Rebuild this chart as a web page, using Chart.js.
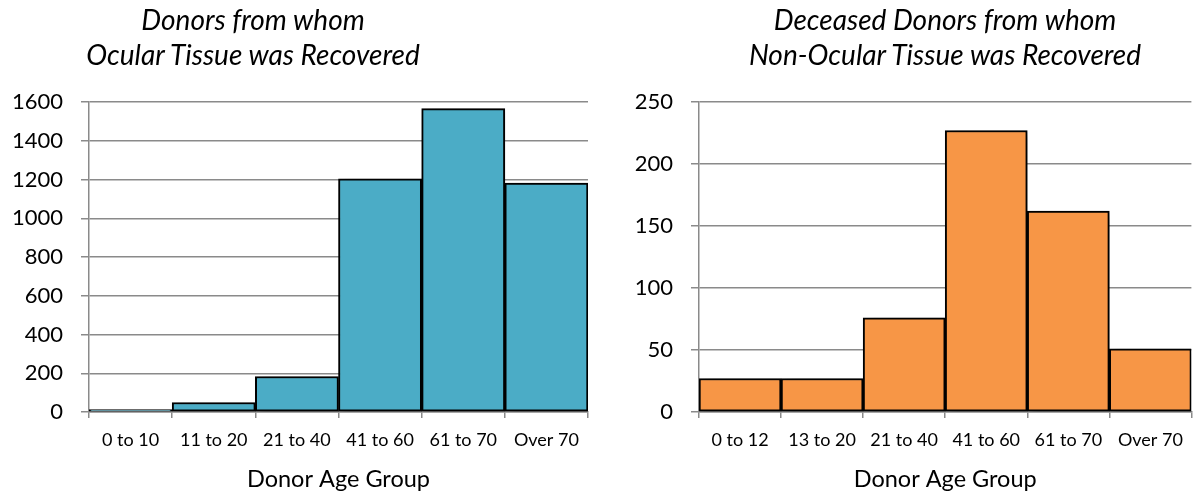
<!DOCTYPE html>
<html>
<head>
<meta charset="utf-8">
<script src="https://cdn.jsdelivr.net/npm/chart.js@4.4.0/dist/chart.umd.min.js"></script>
<style>
  html, body { margin: 0; padding: 0; background: #fff; }
  body { width: 1194px; height: 492px; position: relative; overflow: hidden; font-family: Lato, "Open Sans", sans-serif; }
  canvas { position: absolute; top: 0; }
  #c1 { left: 0; }
  #c2 { left: 597px; }
  .title { position: absolute; top: 2px; width: 520px; text-align: center; font-style: italic; font-size: 28px; line-height: 35px; color: #000; }
  #t1 { left: -7px; }
  #t2 { left: 685px; }
</style>
</head>
<body>
<canvas id="c1" width="597" height="492"></canvas>
<canvas id="c2" width="597" height="492"></canvas>
<div class="title" id="t1">Donors from whom<br>Ocular Tissue was Recovered</div>
<div class="title" id="t2">Deceased Donors from whom<br>Non-Ocular Tissue was Recovered</div>
<script>
const leftCategories = ['0 to 10', '11 to 20', '21 to 40', '41 to 60', '61 to 70', 'Over 70'];
const leftValues = [12, 49, 183, 1203, 1566, 1181];
const leftTicks = { max: 1600, step: 200 };

const rightCategories = ['0 to 12', '13 to 20', '21 to 40', '41 to 60', '61 to 70', 'Over 70'];
const rightValues = [27, 27, 76, 227, 162, 51];
const rightTicks = { max: 250, step: 50 };

const xTitle = 'Donor Age Group';

const FONT = 'Lato, "Open Sans", sans-serif';
const GRID = '#8a8a8a';

const shadowPlugin = {
  id: 'barShadow',
  beforeDatasetsDraw(chart) {
    const ctx = chart.ctx;
    ctx.save();
    ctx.shadowColor = 'rgba(0,0,0,0.4)';
    ctx.shadowBlur = 9;
    ctx.shadowOffsetX = 5;
    ctx.shadowOffsetY = 3;
  },
  afterDatasetsDraw(chart) {
    chart.ctx.restore();
  }
};

function makeChart(id, labels, values, ticks, color, yWidth, padRight) {
  return new Chart(document.getElementById(id), {
    type: 'bar',
    data: {
      labels: labels,
      datasets: [{
        data: values,
        backgroundColor: color,
        borderColor: '#000',
        borderWidth: 2,
        borderSkipped: false,
        barPercentage: 1,
        categoryPercentage: 1
      }]
    },
    options: {
      responsive: false,
      animation: false,
      devicePixelRatio: 1,
      layout: { padding: { top: 102, right: padRight, left: 0, bottom: 0 } },
      plugins: { legend: { display: false }, tooltip: { enabled: false }, title: { display: false } },
      scales: {
        x: {
          grid: { offset: true, drawOnChartArea: false, drawTicks: true, tickLength: 6, color: GRID, lineWidth: 1.5 },
          border: { color: GRID, width: 1.5 },
          ticks: { color: '#000', font: { family: FONT, size: 18 }, padding: 11, maxRotation: 0, autoSkip: false },
          title: { display: true, text: xTitle, color: '#000', font: { family: FONT, size: 23.5 }, padding: { top: 0, bottom: -2 } },
          afterFit(scale) { scale.height = 80; }
        },
        y: {
          min: 0, max: ticks.max,
          grid: { color: GRID, lineWidth: 1.5, tickLength: 8, drawTicks: true },
          border: { color: GRID, width: 1.5 },
          ticks: { stepSize: ticks.step, color: '#000', font: { family: FONT, size: 22 }, padding: 18,
                   callback: (v) => String(v) },
          afterFit(scale) { scale.width = yWidth; }
        }
      }
    },
    plugins: [shadowPlugin]
  });
}

makeChart('c1', leftCategories, leftValues, leftTicks, '#4BACC6', 89, 9);
makeChart('c2', rightCategories, rightValues, rightTicks, '#F79646', 102, 2);
</script>
</body>
</html>
